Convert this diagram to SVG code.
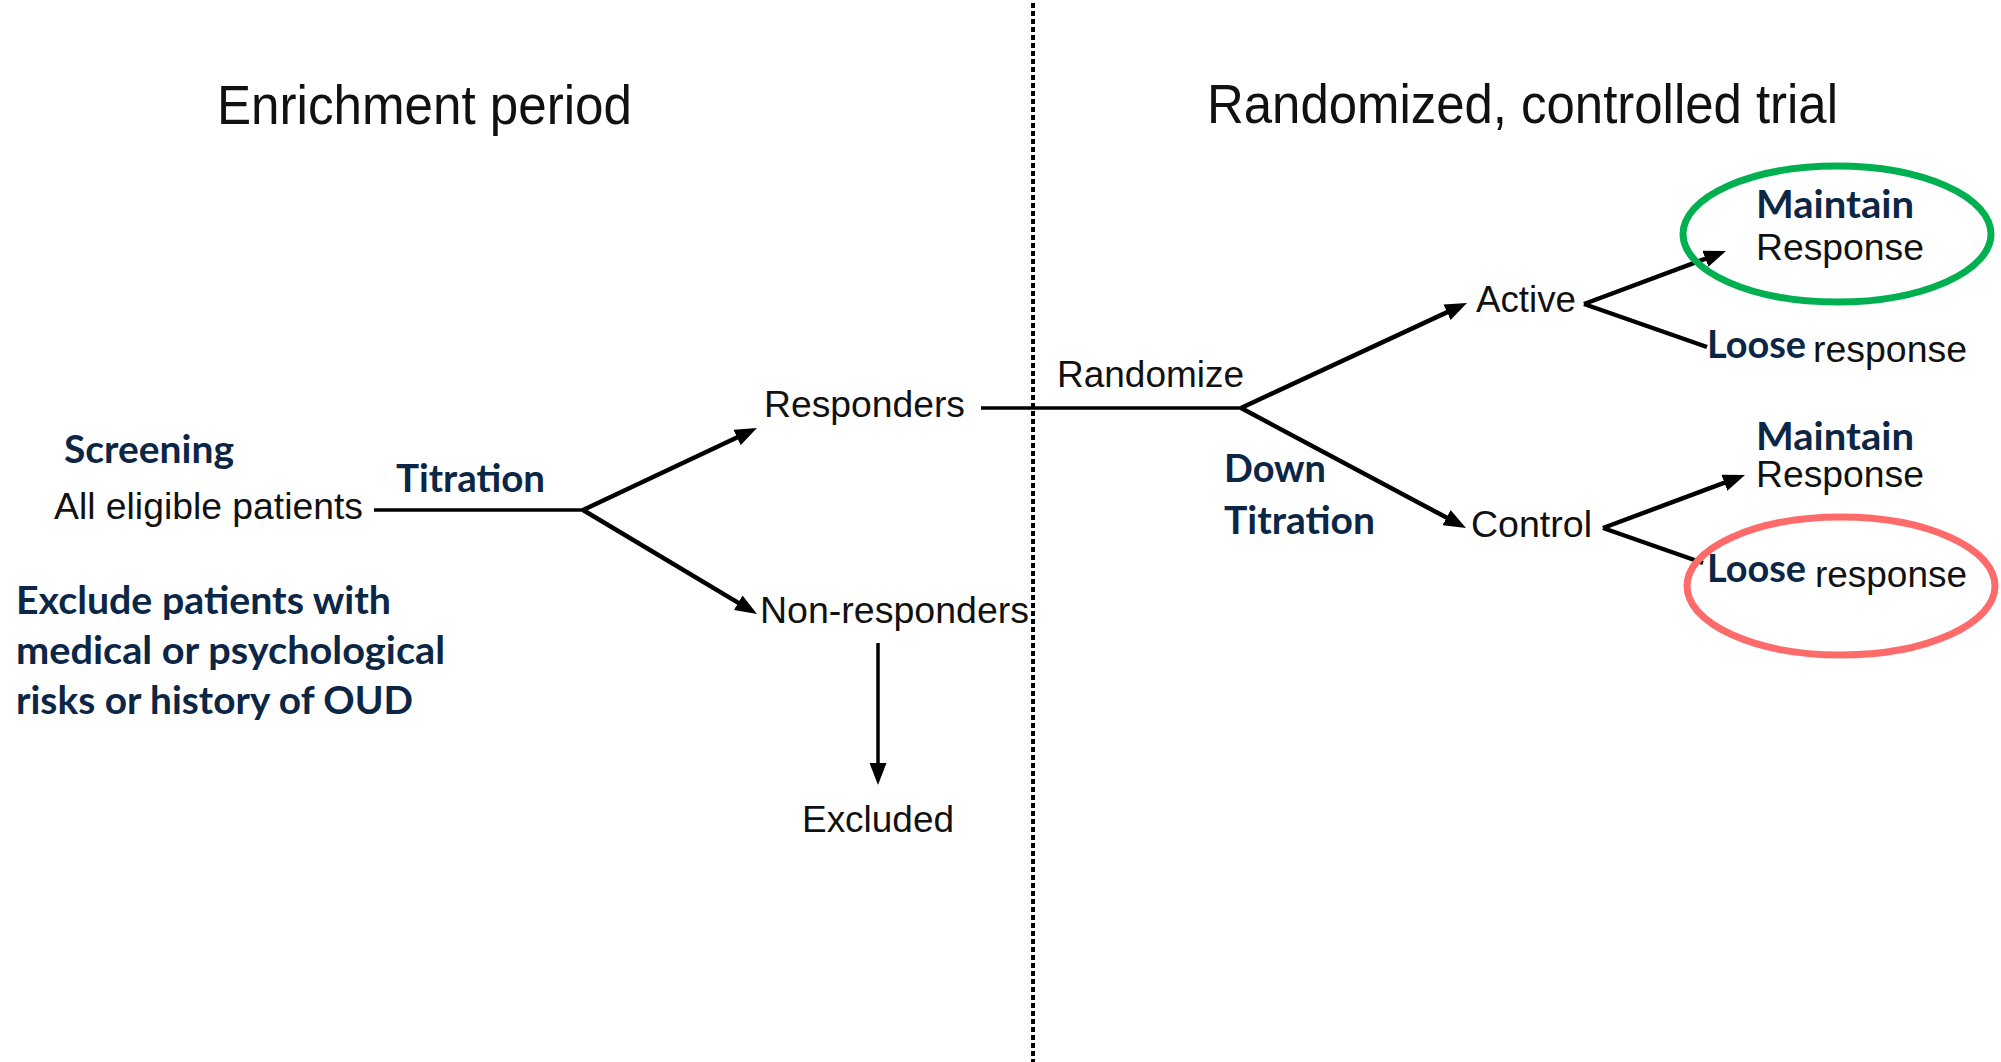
<svg xmlns="http://www.w3.org/2000/svg" width="2001" height="1062" viewBox="0 0 2001 1062">
<style>
.t{font-family:"Liberation Sans",Arial,sans-serif;fill:#111;}
.title{font-size:55px;}
.lbl{font-size:36px;}
.b{font-family:Lato,"Open Sans","Liberation Sans",sans-serif;font-weight:700;fill:#0c2646;font-size:39px;}
.ln{stroke:#000;stroke-width:4.5;fill:none;}
.hl{stroke:#000;stroke-width:3.5;fill:none;}
.arr{marker-end:url(#ah);}
</style>
<defs>
<marker id="ah" viewBox="0 0 22 17" markerWidth="22" markerHeight="17" refX="11" refY="8.5" orient="auto" markerUnits="userSpaceOnUse">
<path d="M0,0 L22,8.5 L0,17 z" fill="#000"/>
</marker>
</defs>
<rect width="2001" height="1062" fill="#fff"/>
<g id="divider">
<line x1="1033" y1="3" x2="1033" y2="1062" stroke="#000" stroke-width="4" stroke-dasharray="5 3"/>
</g>
<g id="titles">
<text class="t title" x="217" y="124" textLength="415" lengthAdjust="spacingAndGlyphs">Enrichment period</text>
<text class="t title" x="1207" y="123" textLength="631" lengthAdjust="spacingAndGlyphs">Randomized, controlled trial</text>
</g>
<g id="connectors">
<line class="hl" x1="374" y1="510" x2="583" y2="510"/>
<line class="ln arr" x1="583" y1="510" x2="747" y2="432.8"/>
<line class="ln arr" x1="583" y1="510" x2="747.6" y2="608.4"/>
<line class="hl arr" x1="878" y1="643" x2="878" y2="774"/>
<line class="hl" x1="981" y1="408" x2="1241" y2="408"/>
<line class="ln arr" x1="1241" y1="408" x2="1457" y2="307.6"/>
<line class="ln arr" x1="1241" y1="408" x2="1456.3" y2="522.8"/>
<line class="ln arr" x1="1584" y1="304" x2="1715.7" y2="254.9"/>
<line class="ln" x1="1584" y1="304" x2="1707" y2="347"/>
<line class="ln arr" x1="1603" y1="528" x2="1734.7" y2="478.9"/>
<line class="ln" x1="1603" y1="528" x2="1703" y2="563"/>
</g>
<g id="screening">
<text class="b" x="64" y="463" textLength="170" lengthAdjust="spacingAndGlyphs">Screening</text>
<text class="t lbl" x="54" y="519" textLength="309" lengthAdjust="spacingAndGlyphs">All eligible patients</text>
</g>
<g id="titration-label">
<text class="b" x="396" y="492" textLength="149" lengthAdjust="spacingAndGlyphs">Titration</text>
</g>
<g id="exclusion-note">
<text class="b" x="16" y="614" textLength="375" lengthAdjust="spacingAndGlyphs">Exclude patients with</text>
<text class="b" x="16" y="664" textLength="429" lengthAdjust="spacingAndGlyphs">medical or psychological</text>
<text class="b" x="16" y="714" textLength="397" lengthAdjust="spacingAndGlyphs">risks or history of OUD</text>
</g>
<g id="responders">
<text class="t lbl" x="764" y="417" textLength="201" lengthAdjust="spacingAndGlyphs">Responders</text>
</g>
<g id="non-responders">
<text class="t lbl" x="760" y="623" textLength="269" lengthAdjust="spacingAndGlyphs">Non-responders</text>
</g>
<g id="excluded">
<text class="t lbl" x="802" y="832" textLength="152" lengthAdjust="spacingAndGlyphs">Excluded</text>
</g>
<g id="randomize-label">
<text class="t lbl" x="1057" y="387" textLength="187" lengthAdjust="spacingAndGlyphs">Randomize</text>
</g>
<g id="down-titration-label">
<text class="b" x="1224" y="482" textLength="102" lengthAdjust="spacingAndGlyphs">Down</text>
<text class="b" x="1224" y="534" textLength="151" lengthAdjust="spacingAndGlyphs">Titration</text>
</g>
<g id="active">
<text class="t lbl" x="1476" y="312" textLength="100" lengthAdjust="spacingAndGlyphs">Active</text>
</g>
<g id="control">
<text class="t lbl" x="1471" y="537" textLength="121" lengthAdjust="spacingAndGlyphs">Control</text>
</g>
<g id="active-maintain">
<ellipse cx="1837" cy="234" rx="154" ry="68" fill="none" stroke="#00b050" stroke-width="7"/>
<text class="b" x="1756" y="218" textLength="158" lengthAdjust="spacingAndGlyphs">Maintain</text>
<text class="t lbl" x="1756" y="260" textLength="168" lengthAdjust="spacingAndGlyphs">Response</text>
</g>
<g id="active-loose">
<text class="b" x="1707" y="358" textLength="99" lengthAdjust="spacingAndGlyphs">Loose</text>
<text class="t lbl" x="1813" y="362" textLength="154" lengthAdjust="spacingAndGlyphs">response</text>
</g>
<g id="control-maintain">
<text class="b" x="1756" y="450" textLength="158" lengthAdjust="spacingAndGlyphs">Maintain</text>
<text class="t lbl" x="1756" y="487" textLength="168" lengthAdjust="spacingAndGlyphs">Response</text>
</g>
<g id="control-loose">
<ellipse cx="1841" cy="586" rx="154" ry="69" fill="none" stroke="#ff6b6b" stroke-width="7"/>
<text class="b" x="1707" y="582" textLength="99" lengthAdjust="spacingAndGlyphs">Loose</text>
<text class="t lbl" x="1815" y="587" textLength="152" lengthAdjust="spacingAndGlyphs">response</text>
</g>
</svg>
